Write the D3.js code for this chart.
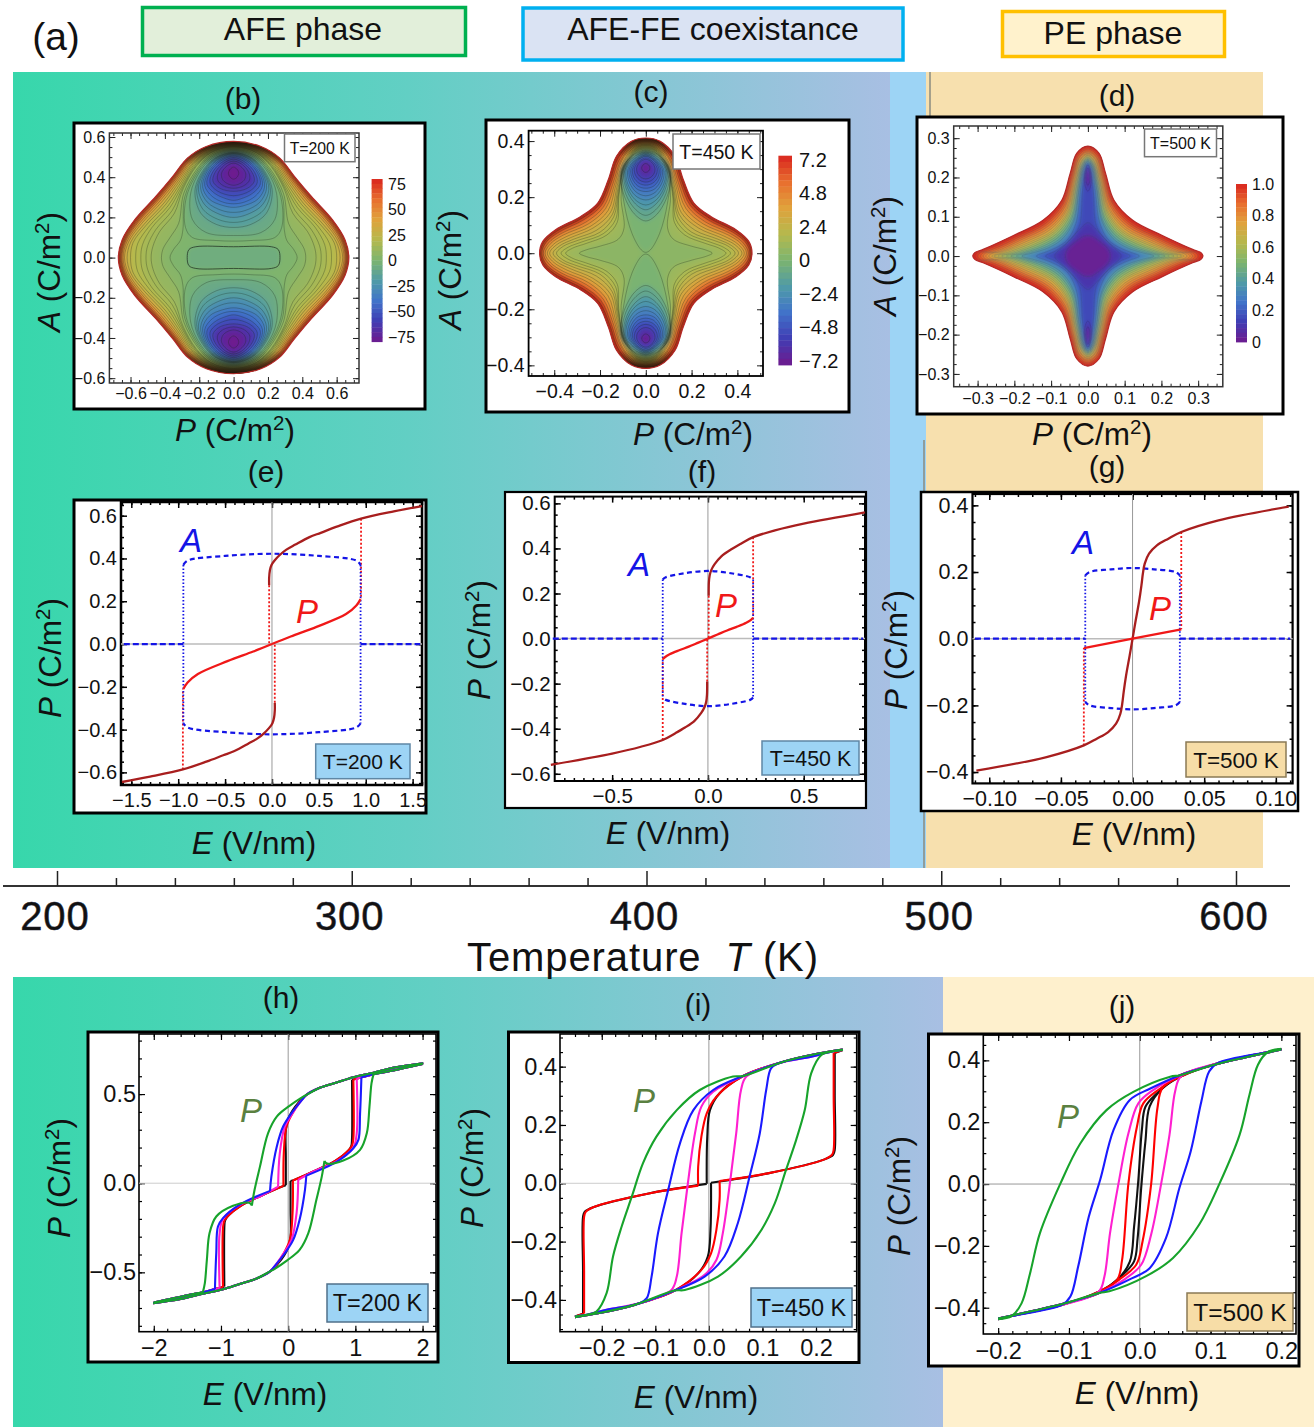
<!DOCTYPE html>
<html><head><meta charset="utf-8">
<script src="https://cdn.jsdelivr.net/npm/d3@7"></script>
<style>
html,body{margin:0;padding:0;background:#fff}
svg{display:block}
text{font-family:"Liberation Sans",Arial,sans-serif;fill:#111;white-space:pre}
</style></head><body>
<svg id="c" width="1314" height="1427"></svg>
<script>
// ---------- DATA ----------
const phaseNames = ["AFE phase", "AFE-FE coexistance", "PE phase"];
const panelLetters = ["(a)","(b)","(c)","(d)","(e)","(f)","(g)","(h)","(i)","(j)"];
const tempTicks = [200,300,400,500,600];
const tempMinor = [220,240,260,280,320,340,360,380,420,440,460,480,520,540,560,580];

// contour plots: rings are [P, A] quadrant outlines, with the level they were read at
const bLevels = [75,55,38,26,18,13,8,4,1];
const bRings = [
 [[.671,0],[.649,.088],[.576,.188],[.453,.304],[.355,.403],[.269,.495],[.159,.553],[0,.578]],
 [[.66,0],[.638,.085],[.565,.183],[.443,.299],[.347,.398],[.262,.489],[.155,.548],[0,.574]],
 [[.65,0],[.628,.082],[.553,.178],[.432,.292],[.338,.39],[.255,.482],[.15,.543],[0,.57]],
 [[.635,0],[.61,.08],[.535,.17],[.415,.28],[.325,.38],[.245,.475],[.145,.538],[0,.565]],
 [[.60,0],[.585,.075],[.51,.16],[.395,.265],[.31,.37],[.235,.468],[.14,.532],[0,.56]],
 [[.54,0],[.53,.065],[.475,.15],[.37,.25],[.30,.355],[.225,.46],[.135,.527],[0,.555]],
 [[.48,0],[.47,.055],[.43,.13],[.345,.22],[.295,.34],[.218,.453],[.13,.522],[0,.55]],
 [[.42,0],[.41,.045],[.37,.1],[.32,.17],[.29,.32],[.21,.445],[.125,.517],[0,.545]],
 [[.37,0],[.35,.04],[.31,.085],[.295,.14],[.285,.3],[.205,.44],[.12,.512],[0,.54]]];
const bLinesOuter = [
 [[.666,0],[.644,.087],[.571,.186],[.448,.302],[.351,.401],[.266,.492],[.157,.551],[0,.576]],
 [[.655,0],[.633,.084],[.559,.18],[.438,.296],[.343,.394],[.258,.485],[.152,.545],[0,.572]],
 [[.643,0],[.62,.081],[.544,.174],[.424,.286],[.332,.385],[.25,.478],[.147,.54],[0,.567]],
 [[.62,0],[.598,.078],[.522,.165],[.405,.272],[.318,.375],[.24,.47],[.142,.535],[0,.562]],
 [[.57,0],[.558,.07],[.492,.155],[.382,.257],[.305,.362],[.23,.464],[.137,.53],[0,.557]],
 [[.51,0],[.5,.06],[.452,.14],[.357,.235],[.297,.348],[.221,.456],[.132,.524],[0,.552]]];
const bWellLevels = [-3,-8,-16,-26,-38,-50,-62,-70,-75];
const bWells = [
 [[0,.535],[.12,.505],[.20,.435],[.275,.3],[.28,.15],[.24,.1],[.1,.085],[0,.082]],
 [[0,.53],[.115,.5],[.195,.43],[.25,.32],[.24,.19],[.16,.125],[0,.11]],
 [[0,.525],[.11,.495],[.185,.425],[.225,.33],[.19,.22],[.10,.165],[0,.15]],
 [[0,.52],[.105,.49],[.175,.42],[.205,.34],[.165,.26],[.08,.215],[0,.2]],
 [[0,.515],[.095,.485],[.16,.42],[.18,.35],[.14,.29],[.065,.26],[0,.25]],
 [[0,.505],[.085,.475],[.14,.42],[.155,.365],[.11,.32],[.05,.295],[0,.285]],
 [[0,.49],[.065,.465],[.11,.42],[.12,.38],[.08,.345],[0,.33]],
 [[0,.47],[.04,.455],[.07,.42],[.065,.39],[.04,.37],[0,.36]],
 [[0,.45],[.02,.44],[.03,.42],[.02,.40],[0,.39]]];
const bLinesWell = [
 [[0,.5225],[.108,.4925],[.18,.422],[.215,.335],[.178,.24],[.09,.19],[0,.175]],
 [[0,.5175],[.1,.487],[.168,.42],[.192,.345],[.152,.275],[.07,.235],[0,.225]],
 [[0,.51],[.09,.48],[.15,.42],[.168,.358],[.125,.305],[.058,.275],[0,.268]],
 [[0,.498],[.075,.47],[.125,.42],[.137,.372],[.095,.332],[0,.308]],
 [[0,.48],[.055,.46],[.09,.42],[.092,.385],[.06,.358],[0,.345]]];
const bCentreLevels = [-5];
const bCentre = [[[.27,0],[.26,.04],[.22,.054],[0,.054]]];

const cLevels = [7.2,5,3.4,2.4,1.6,1,.5];
const cRings = [
 [[.464,0],[.45,.042],[.394,.084],[.284,.131],[.21,.179],[.164,.262],[.128,.346],[.063,.399],[0,.411]],
 [[.455,0],[.435,.04],[.38,.075],[.27,.12],[.195,.17],[.15,.255],[.118,.33],[.058,.392],[0,.405]],
 [[.44,0],[.415,.035],[.36,.065],[.25,.105],[.175,.16],[.135,.25],[.105,.33],[.05,.385],[0,.398]],
 [[.42,0],[.39,.03],[.33,.055],[.23,.09],[.155,.145],[.125,.24],[.098,.32],[.045,.378],[0,.39]],
 [[.39,0],[.36,.025],[.30,.045],[.2,.075],[.14,.13],[.12,.22],[.095,.31],[.042,.372],[0,.384]],
 [[.35,0],[.32,.018],[.26,.035],[.17,.065],[.125,.11],[.118,.2],[.095,.3],[.042,.365],[0,.376]],
 [[.29,0],[.26,.012],[.2,.025],[.12,.05],[.095,.09],[.108,.2],[.09,.30],[.04,.362],[0,.372]]];
const cLinesOuter = [
 [[.46,0],[.443,.041],[.387,.08],[.277,.126],[.203,.175],[.157,.258],[.123,.338],[.06,.395],[0,.408]],
 [[.448,0],[.425,.037],[.37,.07],[.26,.112],[.185,.165],[.142,.252],[.11,.33],[.054,.388],[0,.401]],
 [[.43,0],[.403,.032],[.345,.06],[.24,.097],[.165,.152],[.13,.245],[.1,.325],[.048,.381],[0,.394]],
 [[.405,0],[.375,.027],[.315,.05],[.215,.082],[.147,.137],[.122,.23],[.096,.315],[.043,.375],[0,.387]],
 [[.37,0],[.34,.021],[.28,.04],[.185,.07],[.132,.12],[.119,.21],[.095,.305],[.042,.368],[0,.38]]];
const cWellLevels = [-.1,-1,-2,-3,-4,-5,-6,-7];
const cWells = [
 [[0,.368],[.065,.345],[.105,.29],[.095,.18],[.06,.07],[.02,.012],[0,.003]],
 [[0,.365],[.06,.345],[.105,.30],[.10,.22],[.06,.15],[.02,.12],[0,.115]],
 [[0,.36],[.055,.34],[.095,.30],[.09,.24],[.05,.18],[0,.155]],
 [[0,.355],[.05,.335],[.085,.30],[.08,.25],[.045,.205],[0,.19]],
 [[0,.35],[.045,.33],[.072,.30],[.068,.265],[.04,.23],[0,.22]],
 [[0,.345],[.035,.33],[.058,.30],[.052,.27],[.03,.25],[0,.243]],
 [[0,.335],[.025,.325],[.04,.303],[.035,.283],[.02,.27],[0,.265]],
 [[0,.32],[.012,.315],[.018,.304],[.012,.293],[0,.288]]];
const cLinesWell = [
 [[0,.362],[.057,.342],[.1,.30],[.095,.23],[.055,.165],[0,.135]],
 [[0,.357],[.052,.337],[.09,.30],[.085,.245],[.048,.192],[0,.172]],
 [[0,.352],[.047,.332],[.078,.30],[.074,.258],[.042,.218],[0,.205]],
 [[0,.347],[.04,.33],[.065,.30],[.06,.268],[.035,.24],[0,.232]],
 [[0,.34],[.03,.327],[.05,.302],[.044,.277],[.025,.26],[0,.254]]];

const dLevels = [1,.9,.8,.7,.6,.5,.4,.3,.2,.15,.1,.02];
const dRings = [
 [[.313,0],[.307,.009],[.285,.017],[.201,.053],[.122,.091],[.071,.142],[.048,.211],[.03,.262],[0,.28]],
 [[.30,0],[.294,.008],[.268,.014],[.19,.047],[.115,.083],[.066,.135],[.043,.205],[.026,.255],[0,.272]],
 [[.285,0],[.279,.007],[.25,.012],[.18,.042],[.108,.076],[.061,.127],[.039,.2],[.023,.25],[0,.265]],
 [[.27,0],[.262,.006],[.235,.011],[.17,.036],[.10,.069],[.056,.12],[.035,.195],[.02,.245],[0,.26]],
 [[.255,0],[.22,.009],[.155,.032],[.093,.062],[.052,.113],[.032,.19],[.017,.24],[0,.255]],
 [[.235,0],[.2,.008],[.14,.028],[.086,.056],[.048,.105],[.029,.185],[.015,.235],[0,.25]],
 [[.21,0],[.18,.007],[.125,.024],[.078,.05],[.043,.097],[.026,.18],[.013,.232],[0,.246]],
 [[.18,0],[.15,.008],[.105,.022],[.068,.045],[.038,.09],[.023,.175],[.011,.228],[0,.242]],
 [[.14,0],[.115,.01],[.085,.022],[.055,.042],[.032,.085],[.02,.17],[.01,.225],[0,.24]],
 [[.115,0],[.09,.012],[.065,.028],[.04,.05],[.022,.08],[.015,.16],[.008,.22],[0,.236]],
 [[.09,0],[.06,.03],[.02,.07],[0,.085]],
 [[.0615,0],[.055,.018],[.035,.035],[.012,.05],[0,.052]]];
const dLinesOuter = [
 [[.307,0],[.3,.0085],[.277,.0155],[.195,.05],[.118,.087],[.068,.138],[.045,.208],[.028,.258],[0,.276]],
 [[.292,0],[.286,.0075],[.259,.013],[.185,.0445],[.111,.08],[.063,.131],[.041,.202],[.024,.252],[0,.268]],
 [[.278,0],[.27,.0065],[.242,.0115],[.175,.039],[.104,.072],[.058,.123],[.037,.197],[.021,.247],[0,.262]],
 [[.262,0],[.228,.01],[.162,.034],[.096,.065],[.054,.116],[.033,.192],[.018,.242],[0,.257]],
 [[.245,0],[.21,.0085],[.147,.03],[.09,.059],[.05,.109],[.03,.187],[.016,.237],[0,.252]],
 [[.222,0],[.19,.0075],[.132,.026],[.082,.053],[.045,.101],[.027,.182],[.014,.233],[0,.248]],
 [[.195,0],[.165,.0075],[.115,.023],[.073,.047],[.04,.093],[.024,.177],[.012,.23],[0,.244]]];
const dWellLevels = [.1,.03];
const dWells = [
 [[0,.232],[.008,.21],[.008,.18],[0,.165]],
 [[0,.225],[.005,.21],[.005,.19],[0,.18]]];

const bXTicks=[-.6,-.4,-.2,0,.2,.4,.6], cXTicks=[-.4,-.2,0,.2,.4], dXTicks=[-.3,-.2,-.1,0,.1,.2,.3];
const bBarTicks=[75,50,25,0,-25,-50,-75], cBarTicks=[7.2,4.8,2.4,0,-2.4,-4.8,-7.2], dBarTicks=[1,.8,.6,.4,.2,0];

// single-sweep loops (e, f, g): [E, P]
const eBranch=[[-.03,.275],[-.03,.31],[-.022,.345],[-.005,.37],[.03,.392],[.08,.415],[.15,.44],[.25,.465],[.4,.5],[.52,.52],[.7,.55],[.95,.586],[1.3,.62],[1.6,.645]];
const eInner=[[0,0],[.2,.035],[.475,.08],[.79,.14],[.9,.18],[.945,.21]];
const eAfe=[[-.945,.37],[-.9,.39],[-.5,.412],[0,.422],[.5,.412],[.9,.39],[.945,.37]];
const fBranch=[[.004,.19],[.005,.25],[.009,.28],[.018,.305],[.035,.33],[.07,.365],[.12,.395],[.17,.42],[.236,.45],[.35,.48],[.5,.51],[.82,.56]];
const fInner=[[0,0],[.05,.018],[.1,.036],[.15,.052],[.2,.07],[.225,.083],[.236,.092]];
const fAfe=[[-.236,.262],[-.22,.272],[-.12,.29],[0,.30],[.12,.29],[.22,.272],[.236,.262]];
const gBranch=[[0,0],[.002,.05],[.0045,.11],[.0062,.16],[.0072,.195],[.0085,.225],[.0115,.255],[.017,.28],[.025,.30],[.034,.32],[.06,.355],[.109,.396]];
const gInner=[[0,0],[.034,.028]];
const gAfe=[[-.033,.19],[-.03,.2],[-.015,.208],[0,.212],[.015,.208],[.03,.2],[.033,.19]];

// multi-field loops (h, i, j): forward sweep [E, P]; the return sweep is its point reflection.
// A repeated point marks a sharp corner.
const hTailLow=[[-2,-.669],[-1.5,-.628],[-1.27,-.612],[-1.09,-.594],[-1.02,-.587],[-.97,-.582],[-.95,-.58]];
const hTailHigh=[[.27,.495],[.47,.535],[.72,.565],[.97,.595],[1.27,.62],[1.6,.65],[2.01,.673]];
const hBlack=[[-.95,-.58],[-.95,-.58],[-.95,-.25],[-.94,-.21],[-.9,-.185],[-.7,-.125],[-.4,-.07],[-.1,-.02],[-.035,-.012],[-.035,-.012],[-.035,.15],[-.035,.30],[0,.36],[.06,.405],[.15,.45]];
const hRed=[[-.97,-.582],[-.97,-.582],[-.97,-.25],[-.95,-.21],[-.9,-.185],[-.7,-.125],[-.4,-.07],[-.07,-.015],[-.07,-.015],[-.065,.168],[-.025,.318],[.075,.40],[.17,.455]];
const hMagenta=[[-1.02,-.587],[-1.02,-.587],[-1.02,-.28],[-.97,-.2],[-.72,-.122],[-.4,-.07],[-.15,-.019],[-.15,-.019],[-.125,.168],[-.05,.318],[.05,.383],[.17,.45]];
const hBlue=[[-1.09,-.594],[-1.09,-.594],[-1.07,-.39],[-1.045,-.243],[-.97,-.196],[-.72,-.12],[-.27,-.043],[-.27,-.043],[-.25,.037],[-.17,.205],[-.075,.318],[.05,.393],[.2,.465]];
const hGreen=[[-1.27,-.612],[-1.27,-.612],[-1.24,-.56],[-1.21,-.43],[-1.17,-.28],[-1.07,-.187],[-.82,-.127],[-.58,-.11],[-.54,-.125],[-.54,-.125],[-.5,-.037],[-.42,.093],[-.3,.28],[-.17,.374],[.02,.434],[.2,.48]];
const iTailLow=[[-.25,-.457],[-.228,-.451],[-.191,-.434],[-.129,-.411],[-.07,-.366]];
const iTailHigh=[[.064,.368],[.139,.417],[.207,.446],[.25,.459]];
const iBlack=[[-.235,-.447],[-.235,-.447],[-.235,-.3],[-.235,-.115],[-.232,-.098],[-.216,-.082],[-.11,-.034],[-.004,-.002],[-.004,-.002],[-.003,.16],[.002,.251],[.02,.309]];
const iRed=[[-.233,-.447],[-.233,-.447],[-.233,-.3],[-.233,-.115],[-.23,-.098],[-.216,-.082],[-.11,-.034],[-.02,-.008],[-.02,-.008],[-.02,.057],[-.014,.16],[-.004,.24],[.014,.297]];
const iMagenta=[[-.07,-.366],[-.06,-.32],[-.051,-.171],[-.04,-.011],[-.026,.171],[-.014,.263],[.008,.314]];
const iBlue=[[-.129,-.411],[-.116,-.394],[-.107,-.32],[-.095,-.171],[-.076,-.023],[-.054,.137],[-.029,.251],[.008,.32]];
const iGreen=[[-.21,-.44],[-.191,-.377],[-.179,-.251],[-.163,-.149],[-.144,-.046],[-.123,.069],[-.098,.16],[-.06,.251],[-.017,.32],[.045,.366]];
const jTailLow=[[-.2,-.437],[-.181,-.427],[-.11,-.391],[-.058,-.348],[-.032,-.31],[-.014,-.251]];
const jTailHigh=[[.057,.352],[.104,.385],[.15,.41],[.2,.435]];
const jBlack=[[-.014,-.251],[-.008,-.138],[-.002,.013],[.003,.175],[.008,.25],[.024,.293]];
const jRed=[[-.032,-.31],[-.025,-.246],[-.016,.002],[-.004,.185],[.005,.261],[.029,.309]];
const jMagenta=[[-.058,-.348],[-.05,-.3],[-.042,-.159],[-.03,.002],[-.016,.164],[-.002,.261],[.019,.304]];
const jBlue=[[-.11,-.391],[-.098,-.364],[-.087,-.267],[-.072,-.106],[-.056,.013],[-.037,.175],[-.014,.272],[.015,.309]];
const jGreen=[[-.181,-.427],[-.167,-.386],[-.155,-.289],[-.141,-.159],[-.112,.002],[-.084,.131],[-.047,.239],[-.009,.298],[.043,.347]];

// ---------- LAYOUT & STYLE ----------
const svg = d3.select("#c");
const defs = svg.append("defs");
const grad = defs.append("linearGradient").attr("id","bg");
[["0%","#37d7ab"],["45%","#62cfc4"],["100%","#a8bfe3"]].forEach(s=>grad.append("stop").attr("offset",s[0]).attr("stop-color",s[1]));
defs.append("filter").attr("id","soft").attr("x","-5%").attr("y","-5%").attr("width","110%").attr("height","110%")
  .append("feGaussianBlur").attr("stdDeviation",2.2);

const BLUE="#9dd4f5", TAN="#f7e0ae", TANBOX="#f7dda7";
const rect=(x,y,w,h,fill,stroke,sw)=>svg.append("rect").attr("x",x).attr("y",y).attr("width",w).attr("height",h).attr("fill",fill).attr("stroke",stroke||"none").attr("stroke-width",sw||0);
const text=(x,y,s,size,anchor)=>svg.append("text").attr("x",x).attr("y",y).attr("font-size",size).attr("text-anchor",anchor||"middle").text(s);

rect(13,72,877,796,"url(#bg)");
rect(890,72,36,796,BLUE);
rect(926,72,337,796,TAN);
svg.append("path").attr("d","M930 72V122M924 440V868").attr("stroke","#8a8a80").attr("stroke-width",1.5);
rect(13,977,930,450,"url(#bg)");
rect(943,977,371,450,"#fef0cd");

// headers
[[142.5,7.5,323,48,"#e2efda","#00b050",303],[523,8,380,52,"#dae3f3","#00b0f0",713],[1002.5,11.5,222,45,"#fff2cc","#ffc000",1113]].forEach((b,i)=>{
  rect(b[0],b[1],b[2],b[3],b[4],b[5],3.5);
  text(b[6],[40,40,44][i],phaseNames[i],32);
});
text(56,50,panelLetters[0],39);

// labels (b)..(j)
[[243,109],[651,102],[1117,106],[266,482],[702,482],[1107,477],[281,1008],[698,1015],[1122,1017]].forEach((p,i)=>text(p[0],p[1],panelLetters[i+1],30));

function quantity(x,y,rot,v,unit,sup,size){
  size=size||31.5;
  const t=svg.append("text").attr("font-size",size).attr("text-anchor","middle")
    .attr("transform",`translate(${x},${y}) rotate(${rot})`);
  t.append("tspan").attr("font-style","italic").text(v);
  t.append("tspan").text(" "+unit);
  if(sup){
    t.append("tspan").attr("font-size",size*.65).attr("dy",-size*.36).text(sup);
    t.append("tspan").attr("dy",size*.36).text(")");
  } else t.append("tspan").text(")");
}
function whiteBox(x0,y0,x1,y1,sw){ rect(x0,y0,x1-x0,y1-y0,"#fff","#000",sw||3); }

function frame(o){
  const x=d3.scaleLinear().domain(o.xd).range(o.xr), y=d3.scaleLinear().domain(o.yd).range(o.yr);
  const g=svg.append("g");
  const fx=o.fx||d3.format(".1f"), fy=o.fy||d3.format(".1f");
  const [xa,xb]=o.xr,[ya,yb]=o.yr;
  const style=(sel)=>{sel.select(".domain").remove();sel.selectAll("line").attr("stroke",o.tc||"#000").attr("stroke-width",o.tw||1.2);sel.selectAll("text").attr("font-size",o.fs);return sel;};
  const mk=(ax,tx,vals,len,fmt,pad)=>style(g.append("g").attr("transform",tx).call(ax.tickValues(vals).tickSize(-len).tickPadding(pad||0).tickFormat(fmt||"")));
  const xm=o.xMinor, ym=o.yMinor;
  mk(d3.axisBottom(x),`translate(0,${ya})`,xm,3);
  mk(d3.axisTop(x),`translate(0,${yb})`,xm,3);
  mk(d3.axisLeft(y),`translate(${xa},0)`,ym,3);
  mk(d3.axisRight(y),`translate(${xb},0)`,ym,3);
  mk(d3.axisBottom(x),`translate(0,${ya})`,o.xt,6,fx,o.px);
  mk(d3.axisLeft(y),`translate(${xa},0)`,o.yt,6,fy,o.py);
  mk(d3.axisTop(x),`translate(0,${yb})`,o.xt,6);
  mk(d3.axisRight(y),`translate(${xb},0)`,o.yt,6);
  g.append("rect").attr("x",xa).attr("y",yb).attr("width",xb-xa).attr("height",ya-yb).attr("fill","none").attr("stroke",o.fc||"#000").attr("stroke-width",o.fw||2);
  return {x,y};
}
const minor=(a,b,st)=>d3.range(Math.round((b-a)/st)+1).map(i=>a+i*st);

// rainbow colour legend
const rainbowT=[0,.13,.25,.37,.5,.62,.75,.87,1];
const rainbowC=["#6e1a8e","#3f3fb5","#4173c9","#4f9aa8","#7cb46f","#b4b94e","#e0a23c","#e8702f","#d9261f"];
const rainbow=d3.scaleLinear().domain(rainbowT).range(rainbowC);

function ringPath(ctx,pts){
  return d3.line().x(d=>ctx.x(d[0])).y(d=>ctx.y(d[1])).curve(d3.curveCatmullRomClosed.alpha(.5))(pts);
}
function quadRing(q){ // first-quadrant outline, mirrored over both axes
  const r=q.slice();
  const a=q.slice(0,-1).reverse().map(p=>[-p[0],p[1]]);
  const b=q.slice(1).map(p=>[-p[0],-p[1]]);
  const c=q.slice(1,-1).reverse().map(p=>[p[0],-p[1]]);
  return r.concat(a,b,c);
}
function wellRings(h){ // right half of a well, mirrored in P, copied to -A
  const top=h.concat(h.slice(1,-1).reverse().map(p=>[-p[0],p[1]]));
  return [top, top.map(p=>[p[0],-p[1]])];
}
function contourPlot(id,ctx,lo,hi,sets,look){
  const col=v=>rainbow((v-lo)/(hi-lo));
  const clip=defs.append("clipPath").attr("id","clip"+id);
  const edge=ringPath(ctx,quadRing(sets[0].rings[0]));
  clip.append("path").attr("d",edge);
  const outer=svg.append("g");
  outer.append("path").attr("d",edge).attr("fill",col(hi));
  const clipped=outer.append("g").attr("clip-path",`url(#clip${id})`);
  const fills=clipped.append("g").attr("filter","url(#soft)");
  const lines=clipped.append("g");
  sets.forEach(s=>s.rings.forEach((r,i)=>{
    const shapes=s.well?wellRings(r):[quadRing(r)];
    shapes.forEach(sh=>{
      const d=ringPath(ctx,sh);
      if(s.levels) fills.append("path").attr("d",d).attr("fill",col(s.levels[i]));
      lines.append("path").attr("d",d).attr("fill","none").attr("stroke",s.line||"#1c2a1c").attr("stroke-opacity",s.op||.42).attr("stroke-width",s.lw||.7);
    });
  }));
  if(look){
    // the crowded contour lines read as darkness along the rim and over the steep dome ends
    clipped.append("path").attr("d",edge).attr("fill","none").attr("stroke","#3c1a10").attr("stroke-opacity",look.rim).attr("stroke-width",look.rimW).attr("filter","url(#soft)");
    [1,-1].forEach((sgn,k)=>{
      const gid=`shade${id}${k}`;
      const g=defs.append("linearGradient").attr("id",gid).attr("gradientUnits","userSpaceOnUse")
        .attr("x1",0).attr("x2",0).attr("y1",ctx.y(sgn*look.to)).attr("y2",ctx.y(sgn*look.from));
      g.append("stop").attr("offset","0").attr("stop-color","#1a1208").attr("stop-opacity",look.dark);
      g.append("stop").attr("offset","1").attr("stop-color","#1a1208").attr("stop-opacity",0);
      const [xa,xb]=ctx.x.range();
      const y0=Math.min(ctx.y(sgn*look.to),ctx.y(sgn*look.from)), h=Math.abs(ctx.y(sgn*look.to)-ctx.y(sgn*look.from));
      clipped.append("rect").attr("x",xa).attr("width",xb-xa).attr("y",y0).attr("height",h).attr("fill",`url(#${gid})`);
    });
  }
  outer.append("path").attr("d",edge).attr("fill","none").attr("stroke","#b42a28").attr("stroke-width",1.2);
}
function colorBar(x0,x1,y0,y1,ticks,lo,hi,fs,lx,ys,fmt){
  const n=34, h=(y1-y0)/n;
  const y=d3.scaleLinear().domain(d3.extent(ticks)).range([ys[1],ys[0]]);
  d3.range(n).forEach(i=>rect(x0,y0+i*h,x1-x0,h+.4,rainbow(1-(i+.5)/n)));
  const ax=d3.axisRight(y).tickValues(ticks).tickSize(0).tickPadding(lx-x1).tickFormat(fmt);
  const g=svg.append("g").attr("transform",`translate(${x1},0)`).call(ax);
  g.select(".domain").remove(); g.selectAll("text").attr("font-size",fs);
}
function tBox(x0,y0,x1,y1,s,fs,fill,stroke){
  rect(x0,y0,x1-x0,y1-y0,fill,stroke,1.5);
  text((x0+x1)/2,(y0+y1)/2+fs*.36,s,fs);
}

// (b)
whiteBox(74,123,425,409);
const bC=frame({xd:[-.723,.73],xr:[109.4,359],yd:[-.624,.62],yr:[383,133],xt:bXTicks,yt:bXTicks,xMinor:minor(-.7,.7,.05),yMinor:minor(-.6,.6,.05),fs:16,px:5,py:4,fc:"#333",fw:1.5,tc:"#222",tw:1});
contourPlot("b",bC,-75,75,[{rings:bRings,levels:bLevels},{rings:bLinesOuter},{rings:bWells,levels:bWellLevels,well:true},{rings:bLinesWell,well:true},{rings:bCentre,levels:bCentreLevels,lw:1,op:.7}],{rim:.35,rimW:4,from:.46,to:.585,dark:.92});
tBox(284.5,134,355,161.7,"T=200 K",15.8,"#fff","#777");
colorBar(371.6,382.6,179,341.7,bBarTicks,-75,75,16,388,[184,337],d3.format("d"));
quantity(60,272,-90,"A","(C/m","2");
quantity(235,441,0,"P","(C/m","2");

// (c)
whiteBox(486,120,849,412);
const cC=frame({xd:[-.512,.512],xr:[528.6,763],yd:[-.438,.437],yr:[376,130.7],xt:cXTicks,yt:cXTicks,xMinor:minor(-.5,.5,.05),yMinor:minor(-.4,.4,.05),fs:19.5,px:8,py:4,fw:1.8,tc:"#222",tw:1});
contourPlot("c",cC,-7.2,7.2,[{rings:cRings,levels:cLevels},{rings:cLinesOuter},{rings:cWells,levels:cWellLevels,well:true},{rings:cLinesWell,well:true}],{rim:.45,rimW:4,from:.345,to:.415,dark:.88});
tBox(673,134,760,169,"T=450 K",19.5,"#fff","#777");
colorBar(778.4,792,155.7,365,cBarTicks,-7.2,7.2,20,799,[160,361],d3.format(".1~f"));
quantity(461,270,-90,"A","(C/m","2");
quantity(693,445,0,"P","(C/m","2");

// (d)
whiteBox(917,117,1283,414);
const dC=frame({xd:[-.365,.367],xr:[953.7,1222.8],yd:[-.3325,.331],yr:[386.7,126],xt:dXTicks,yt:dXTicks,xMinor:minor(-.35,.35,.025),yMinor:minor(-.3,.3,.025),fs:16,px:6,py:4,fc:"#333",fw:1.5,tc:"#222",tw:1});
contourPlot("d",dC,0,1,[{rings:dRings,levels:dLevels,line:"#3a4a70",op:.38,lw:.6},{rings:dLinesOuter,line:"#3a4a70",op:.3,lw:.6},{rings:dWells,levels:dWellLevels,well:true,line:"#3a2a70",op:.4}]);
tBox(1144.5,129,1216.5,156.7,"T=500 K",16,"#fff","#777");
colorBar(1236,1247,184,342,dBarTicks,0,1,16,1252,[184,342],d=>d===0?"0":d.toFixed(1));
quantity(896,256,-90,"A","(C/m","2");
quantity(1092,445,0,"P","(C/m","2");

// loop plots
const catmull=(ctx)=>d3.line().x(d=>ctx.x(d[0])).y(d=>ctx.y(d[1])).curve(d3.curveCatmullRom.alpha(.5));
const linear=(ctx)=>d3.line().x(d=>ctx.x(d[0])).y(d=>ctx.y(d[1]));
const neg=a=>a.map(p=>[-p[0],-p[1]]);
const zeroLines=(ctx,c,w)=>{
  const [xa,xb]=ctx.x.range(),[ya,yb]=ctx.y.range();
  svg.append("line").attr("x1",xa).attr("x2",xb).attr("y1",ctx.y(0)).attr("y2",ctx.y(0)).attr("stroke",c||"#bbb").attr("stroke-width",w||1.5);
  svg.append("line").attr("y1",ya).attr("y2",yb).attr("x1",ctx.x(0)).attr("x2",ctx.x(0)).attr("stroke","#999").attr("stroke-width",1);
};
const stroke=(d,c,w,dash)=>svg.append("path").attr("d",d).attr("fill","none").attr("stroke",c).attr("stroke-width",w).attr("stroke-dasharray",dash||null);

function singleLoop(ctx,branch,inner,afe,opt){
  const cat=catmull(ctx), lin=linear(ctx);
  const RED="#f01818", DARK="#a81e1e", BL="#1414e6";
  const Ej=afe[afe.length-1][0], xMax=opt.xMax;
  const top=afe, bot=neg(afe);
  const jumpTop=opt.jumpTop, jumpIn=inner[inner.length-1][1];
  stroke(lin([[Ej+opt.dj,jumpTop],[Ej+opt.dj,jumpIn]]),RED,1.8,"2 2");
  stroke(lin([[-Ej-opt.dj,-jumpTop],[-Ej-opt.dj,-jumpIn]]),RED,1.8,"2 2");
  if(opt.e0!==undefined){
    stroke(lin([[opt.e0,branch[0][1]],[opt.e0,0]]),RED,1.8,"2 2");
    stroke(lin([[-opt.e0,-branch[0][1]],[-opt.e0,0]]),RED,1.8,"2 2");
  }
  stroke(lin([[-xMax,0],[-Ej,0]]),BL,2.2,"6 3");
  stroke(lin([[Ej,0],[xMax,0]]),BL,2.2,"6 3");
  stroke(lin([[-Ej,top[0][1]],[-Ej,bot[0][1]]]),BL,1.8,"1.5 2");
  stroke(lin([[Ej,top[0][1]],[Ej,bot[0][1]]]),BL,1.8,"1.5 2");
  stroke(cat(top),BL,2.2,"5 3.5");
  stroke(cat(bot),BL,2.2,"5 3.5");
  stroke(cat(branch),DARK,2.3);
  stroke(cat(neg(branch)),DARK,2.3);
  stroke(cat(inner),RED,2.3);
  stroke(cat(neg(inner)),RED,2.3);
}
function bigLetter(x,y,s,c,size){
  svg.append("text").attr("x",x).attr("y",y).attr("font-size",size||33).attr("font-style","italic").attr("text-anchor","middle").style("fill",c).text(s);
}

// (e)
whiteBox(74,500,426,813);
const eC=frame({xd:[-1.61,1.6],xr:[121,422],yd:[-.659,.664],yr:[785,502],xt:[-1.5,-1,-.5,0,.5,1,1.5],yt:[-.6,-.4,-.2,0,.2,.4,.6],xMinor:minor(-1.6,1.6,.1),yMinor:minor(-.65,.65,.05),fs:20,px:8,py:4,fw:2.5,tw:1.5});
zeroLines(eC);
singleLoop(eC,eBranch,eInner,eAfe,{xMax:1.58,jumpTop:.586,dj:.005,e0:-.03});
bigLetter(191,552,"A","#1414e6");
bigLetter(307,623,"P","#f01818");
tBox(315.7,744,410,778.7,"T=200 K",21,BLUE,"#5f87a5");
quantity(61,658,-90,"P","(C/m","2");
quantity(254,854,0,"E","(V/nm");

// (f)
whiteBox(505,492,866,808,2.2);
const fC=frame({xd:[-.8,.82],xr:[554.7,865],yd:[-.632,.63],yr:[781,496.6],xt:[-.5,0,.5],yt:[-.6,-.4,-.2,0,.2,.4,.6],xMinor:minor(-.75,.75,.05),yMinor:minor(-.6,.6,.05),fs:20.5,px:7,py:4,fw:2,tw:1.5});
zeroLines(fC);
singleLoop(fC,fBranch,fInner,fAfe,{xMax:.81,jumpTop:.45,dj:0,e0:.004});
bigLetter(639,576,"A","#1414e6");
bigLetter(726,617,"P","#f01818");
tBox(762,741,859,775,"T=450 K",21.4,BLUE,"#5f87a5");
quantity(490,640,-90,"P","(C/m","2");
quantity(668,844,0,"E","(V/nm");

// (g)
whiteBox(921,492,1298,811,2.5);
const gC=frame({xd:[-.1117,.1117],xr:[972.5,1292.6],yd:[-.434,.434],yr:[783.4,494],xt:[-.1,-.05,0,.05,.1],yt:[-.4,-.2,0,.2,.4],xMinor:minor(-.11,.11,.01),yMinor:minor(-.4,.4,.05),fs:21.5,px:7,py:4,fx:d3.format(".2f"),fw:2.2,tw:1.5});
zeroLines(gC);
singleLoop(gC,gBranch,gInner,gAfe,{xMax:.11,jumpTop:.32,dj:.001});
bigLetter(1083,554,"A","#1414e6");
bigLetter(1160,620,"P","#f01818");
tBox(1186,742,1286,777,"T=500 K",22.5,TANBOX,"#8a7a55");
quantity(907,650,-90,"P","(C/m","2");
quantity(1134,845,0,"E","(V/nm");

// temperature axis
const tScale=d3.scaleLinear().domain([200,600]).range([57,1236]);
svg.append("line").attr("x1",3).attr("x2",1290).attr("y1",886).attr("y2",886).attr("stroke","#333").attr("stroke-width",1.8);
const minorAx=svg.append("g").attr("transform","translate(0,886)").call(d3.axisTop(tScale).tickValues(tempMinor).tickSize(8).tickFormat(""));
minorAx.select(".domain").remove();
const majorAx=svg.append("g").attr("transform","translate(0,886)").call(d3.axisTop(tScale).tickValues(tempTicks).tickSize(15).tickFormat(""));
majorAx.select(".domain").remove();
[minorAx,majorAx].forEach(a=>a.selectAll("line").attr("stroke","#222").attr("stroke-width",1.5));
tempTicks.forEach(t=>text(tScale(t)-2,930,String(t),40).attr("stroke","#223").attr("stroke-width",.5).attr("letter-spacing",1));
const tt=svg.append("text").attr("x",643).attr("y",971).attr("font-size",40).attr("text-anchor","middle").attr("letter-spacing",.9);
tt.append("tspan").text("Temperature  ");
tt.append("tspan").attr("font-style","italic").text("T");
tt.append("tspan").text(" (K)");

// multi-loop helper
const loopColors=["#111","#f00","#ff1fd0","#1a1aff","#17a32b"];
function cornerPath(ctx,pts){
  const cat=catmull(ctx); const parts=[]; let cur=[pts[0]];
  for(let i=1;i<pts.length;i++){
    if(pts[i][0]===pts[i-1][0]&&pts[i][1]===pts[i-1][1]){parts.push(cur);cur=[pts[i]];}
    else cur.push(pts[i]);
  }
  parts.push(cur);
  return parts.filter(p=>p.length>1).map(p=>cat(p)).join("");
}
function multiLoop(ctx,low,high,list){
  list.forEach((s,i)=>{
    const first=s[0][0], last=s[s.length-1][0];
    const lowPart=low.filter(p=>p[0]<first-1e-4);
    const path=lowPart.concat(s,high.filter(p=>p[0]>last+1e-4));
    stroke(cornerPath(ctx,path),loopColors[i],2.1).attr("stroke-linejoin","round");
    stroke(cornerPath(ctx,neg(path)),loopColors[i],2.1).attr("stroke-linejoin","round");
  });
}

// (h)
whiteBox(88,1032,438,1362);
const hC=frame({xd:[-2.22,2.2],xr:[139,436],yd:[-.833,.837],yr:[1331.7,1034],xt:[-2,-1,0,1,2],yt:[-.5,0,.5],xMinor:minor(-2,2,.2),yMinor:minor(-.8,.8,.1),fs:23.5,px:8,py:3,fx:d3.format("d"),fw:1.6});
zeroLines(hC,"#ccc",1);
multiLoop(hC,hTailLow,hTailHigh,[hBlack,hRed,hMagenta,hBlue,hGreen]);
bigLetter(251,1122,"P","#5a8040");
tBox(327,1284,428,1322,"T=200 K",23.5,BLUE,"#50708a");
quantity(70,1178,-90,"P","(C/m","2");
quantity(265,1405,0,"E","(V/nm");

// (i)
whiteBox(508.5,1032,859,1362.5);
const iC=frame({xd:[-.278,.276],xr:[560,856.7],yd:[-.509,.512],yr:[1331.7,1034],xt:[-.2,-.1,0,.1,.2],yt:[-.4,-.2,0,.2,.4],xMinor:minor(-.25,.25,.025),yMinor:minor(-.5,.5,.05),fs:23.5,px:8,py:3,fw:1.6});
zeroLines(iC,"#ccc",1);
multiLoop(iC,iTailLow,iTailHigh,[iBlack,iRed,iMagenta,iBlue,iGreen]);
bigLetter(644,1112,"P","#5a8040");
tBox(751,1288,852,1327,"T=450 K",23.5,BLUE,"#50708a");
quantity(483,1168,-90,"P","(C/m","2");
quantity(696,1408,0,"E","(V/nm");

// (j)
whiteBox(928.5,1034,1299,1366);
const jC=frame({xd:[-.221,.2207],xr:[983.3,1296],yd:[-.485,.482],yr:[1334,1035],xt:[-.2,-.1,0,.1,.2],yt:[-.4,-.2,0,.2,.4],xMinor:minor(-.2,.2,.02),yMinor:minor(-.45,.45,.05),fs:23.5,px:8,py:3,fw:1.6});
zeroLines(jC,"#999",1);
multiLoop(jC,jTailLow,jTailHigh,[jBlack,jRed,jMagenta,jBlue,jGreen]);
bigLetter(1068,1128,"P","#5a8040");
tBox(1187,1293,1293,1331,"T=500 K",24.5,TANBOX,"#8a7a55");
quantity(910,1196,-90,"P","(C/m","2");
quantity(1137,1404,0,"E","(V/nm");
</script>
</body></html>
